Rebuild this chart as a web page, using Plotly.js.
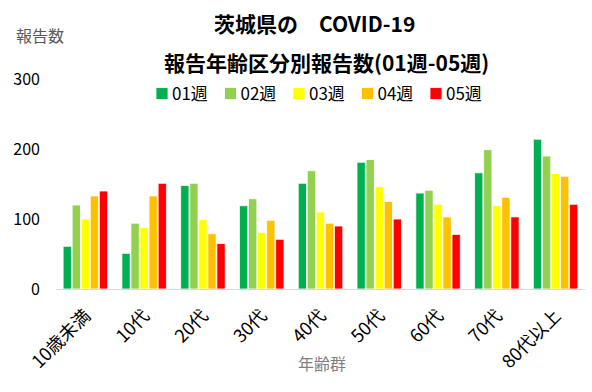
<!DOCTYPE html>
<html><head><meta charset="utf-8">
<script src="https://cdn.plot.ly/plotly-3.0.1.min.js"></script>
<style>body{margin:0}#c{width:592px;height:392px}</style>
</head><body><div id="c"></div>
<script>
const categories = ["10歳未満","10代","20代","30代","40代","50代","60代","70代","80代以上"];
const seriesNames = ["01週","02週","03週","04週","05週"];
const w01 = [61,51,148,119,151,181,137,166,214];
const w02 = [120,94,151,129,169,185,141,199,190];
const w03 = [100,88,99,81,110,146,121,119,165];
const w04 = [133,133,79,98,94,125,103,131,161];
const w05 = [140,151,65,71,90,100,78,103,121];
const colors = ["#00B050","#92D050","#FFFF00","#FFC000","#FF0000"];
const FONT = "Noto Sans CJK JP, sans-serif";
const values = [w01,w02,w03,w04,w05];
const traces = values.map((v,i)=>({
  type:'bar', x:categories, y:v, name:seriesNames[i],
  marker:{color:colors[i], line:{color:'rgba(255,255,255,0.8)', width:1}}
}));
// plot area: left 56, width 529, top 79, height 210
const px = p => (p-56)/529;
const py = p => (289-p)/210;
const layout = {
  width:592, height:392,
  margin:{l:56,r:7,t:79,b:103},
  barmode:'group', bargap:0.23, bargroupgap:0.08,
  paper_bgcolor:'#fff', plot_bgcolor:'#fff',
  font:{family:FONT, size:16, color:'#000'},
  showlegend:true,
  legend:{orientation:'h', xref:'paper', yref:'paper', x:px(142), xanchor:'left', y:py(76), yanchor:'top',
    font:{size:17, family:FONT}, entrywidth:23.5, entrywidthmode:'pixels', itemwidth:30, bgcolor:'rgba(0,0,0,0)'},
  xaxis:{showline:true, linecolor:'#d9d9d9', linewidth:1, ticks:'', tickangle:-45, automargin:false,
    ticklabelstandoff:8, tickfont:{size:18, family:FONT}},
  yaxis:{range:[0,300], dtick:100, showgrid:false, zeroline:false, showline:false, ticks:'', automargin:false,
    ticklabelstandoff:15, tickfont:{size:16, family:FONT}},
  annotations:[
    {text:'報告数', xref:'paper', yref:'paper', x:px(14), y:py(35), xanchor:'left', yanchor:'middle', showarrow:false,
     font:{size:16, color:'#595959', family:FONT}},
    {text:'年齢群', xref:'paper', yref:'paper', x:px(322), y:py(363), xanchor:'center', yanchor:'middle', showarrow:false,
     font:{size:16, color:'#808080', family:FONT}},
    {text:'<b>茨城県の　COVID-19</b>', xref:'paper', yref:'paper', x:px(314), y:py(23), xanchor:'center', yanchor:'middle', showarrow:false, font:{size:21, family:FONT}},
    {text:'<b>報告年齢区分別報告数(01週-05週)</b>', xref:'paper', yref:'paper', x:px(326), y:py(62), xanchor:'center', yanchor:'middle', showarrow:false, font:{size:21, family:FONT}}
  ]
};
Plotly.newPlot('c', traces, layout, {displayModeBar:false}).then(gd => {
  gd.querySelectorAll('.legend .scrollbox, .legend').forEach(el => el.removeAttribute('clip-path'));
  gd.querySelectorAll('.legend .legendtext').forEach(t => {
    const x = parseFloat(t.getAttribute('x')) || 40;
    t.setAttribute('x', x - 10);
  });
});
</script></body></html>
